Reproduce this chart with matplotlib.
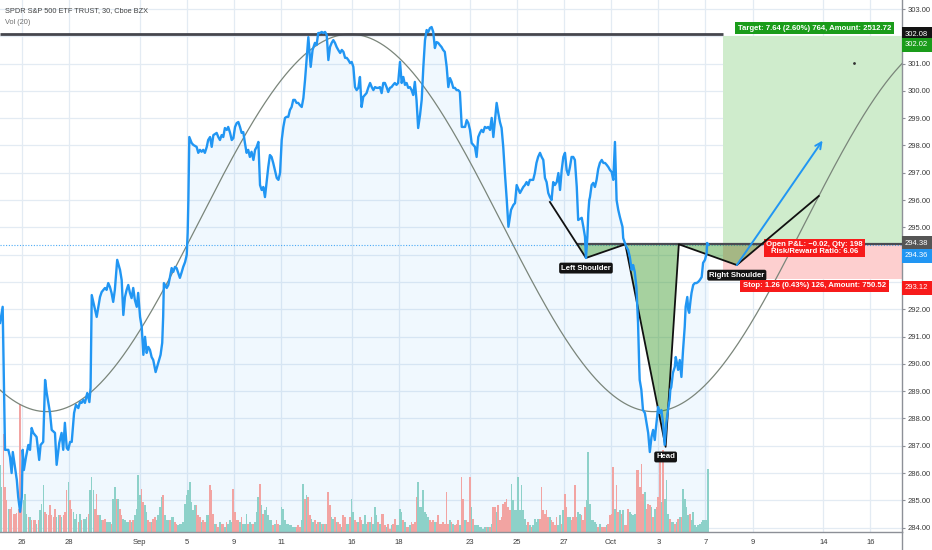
import numpy as np
import matplotlib
matplotlib.use("Agg")
import matplotlib.pyplot as plt
from matplotlib.patches import Rectangle, Polygon
import matplotlib.transforms as mtrans

plt.rcParams['font.family'] = ['Liberation Sans', 'DejaVu Sans']

# ---------------- data ----------------
# time axis = trading days since Aug 26 open (30-min bars, 13 per day)
price_t = [-0.93, -0.82, -0.72, -0.58, -0.51, -0.44, -0.39, -0.30, -0.22, -0.16, -0.08, -0.01,
           0.03, 0.08, 0.17, 0.27, 0.34, 0.41, 0.48, 0.62, 0.73, 0.79, 0.90, 0.98, 1.05, 1.19,
           1.26, 1.40, 1.47, 1.58, 1.68, 1.75, 1.82, 1.90, 1.96, 2.04, 2.11, 2.21, 2.29, 2.39,
           2.46, 2.53, 2.60, 2.67, 2.77, 2.86, 2.91, 2.96, 3.17, 3.31, 3.38, 3.52, 3.59, 3.66,
           3.73, 3.80, 3.87, 3.94, 4.04, 4.16, 4.23, 4.30, 4.37, 4.44, 4.51, 4.58, 4.65, 4.72,
           4.79, 4.87, 4.93, 5.01, 5.08, 5.15, 5.22, 5.29, 5.36, 5.43, 5.50, 5.57, 5.67, 5.78,
           5.88, 5.95, 5.99, 6.02, 6.14, 6.21, 6.28, 6.35, 6.42, 6.49, 6.56, 6.63, 6.70, 6.78,
           6.84, 6.92, 6.99, 7.03, 7.06, 7.10, 7.20, 7.27, 7.41, 7.48, 7.55, 7.62, 7.69, 7.76,
           7.84, 7.90, 7.98, 8.05, 8.12, 8.26, 8.33, 8.40, 8.47, 8.54, 8.61, 8.69, 8.75, 8.83,
           8.90, 8.97, 9.04, 9.11, 9.18, 9.25, 9.32, 9.39, 9.46, 9.53, 9.60, 9.67, 9.74, 9.82,
           9.89, 9.96, 10.03, 10.10, 10.17, 10.24, 10.31, 10.38, 10.45, 10.52, 10.59, 10.66,
           10.73, 10.81, 10.88, 10.95, 11.02, 11.09, 11.16, 11.23, 11.30, 11.37, 11.44, 11.51,
           11.58, 11.65, 11.72, 11.79, 11.87, 11.94, 12.01, 12.08, 12.15, 12.25, 12.33, 12.43,
           12.50, 12.57, 12.64, 12.72, 12.78, 12.86, 12.93, 13.00, 13.07, 13.14, 13.21, 13.28,
           13.35, 13.42, 13.50, 13.57, 13.64, 13.71, 13.78, 13.85, 13.92, 13.99, 14.06, 14.13,
           14.20, 14.27, 14.34, 14.41, 14.48, 14.62, 14.69, 14.77, 14.84, 14.91, 14.98, 15.05,
           15.12, 15.19, 15.26, 15.33, 15.40, 15.47, 15.54, 15.61, 15.68, 15.75, 15.82, 15.89,
           15.96, 16.04, 16.11, 16.18, 16.25, 16.32, 16.39, 16.46, 16.53, 16.60, 16.67, 16.74,
           16.81, 16.89, 16.96, 17.03, 17.10, 17.17, 17.24, 17.31, 17.38, 17.45, 17.52, 17.59,
           17.66, 17.73, 17.80, 17.87, 17.94, 18.02, 18.09, 18.16, 18.23, 18.30, 18.37, 18.44,
           18.51, 18.58, 18.66, 18.73, 18.80, 18.87, 18.94, 19.01, 19.08, 19.15, 19.22, 19.29,
           19.36, 19.43, 19.50, 19.57, 19.64, 19.72, 19.78, 19.86, 19.93, 20.00, 20.07, 20.14,
           20.21, 20.28, 20.35, 20.42, 20.49, 20.57, 20.64, 20.75, 20.85, 20.92, 20.99, 21.13,
           21.27, 21.34, 21.41, 21.48, 21.55, 21.69, 21.76, 21.83, 21.90, 21.98, 22.05, 22.12,
           22.19, 22.26, 22.33, 22.40, 22.47, 22.54, 22.61, 22.69, 22.76, 22.83, 22.90, 22.97,
           23.04, 23.11, 23.18, 23.25, 23.32, 23.39, 23.46, 23.54, 23.60, 23.75, 23.82, 23.89,
           23.93, 23.99, 24.03, 24.07, 24.10, 24.17, 24.24, 24.31, 24.38, 24.45, 24.52, 24.60,
           24.67, 24.74, 24.81, 24.88, 24.95, 25.02, 25.09, 25.16, 25.23, 25.30, 25.37, 25.48,
           25.51, 25.58, 25.65, 25.72, 25.79, 25.87, 25.91, 25.93, 26.00, 26.07, 26.14, 26.19,
           26.21, 26.28, 26.35, 26.43, 26.50, 26.57, 26.64, 26.71, 26.78, 26.85, 26.89, 26.95,
           26.99, 27.06, 27.13, 27.20, 27.27, 27.34, 27.41, 27.48, 27.51, 27.55, 27.62, 27.70,
           27.74, 27.79, 27.84, 27.91, 27.98, 28.05, 28.12, 28.16, 28.23, 28.27, 28.31, 28.37,
           28.41, 28.48, 28.55, 28.62, 28.69, 28.76, 28.84, 28.90, 28.98, 29.05, 29.07, 29.12]

price_close = [291.50, 292.09, 286.85, 286.85, 286.59, 286.00, 286.77, 286.22, 285.75, 285.12, 284.58, 285.12,
               286.85, 286.11, 286.59, 287.03, 286.85, 287.65, 287.47, 287.32, 286.48, 287.03, 287.14, 289.41, 288.93, 288.20,
               287.58, 287.47, 286.30, 287.10, 287.47, 286.85, 287.84, 286.92, 286.85, 287.14, 287.14, 288.20, 288.50, 288.38,
               288.60, 288.57, 288.68, 288.57, 288.93, 288.60, 289.12, 292.52, 291.72, 292.45, 292.63, 292.78, 292.71, 292.96,
               292.82, 292.60, 292.27, 292.71, 293.81, 293.44, 293.07, 291.79, 292.45, 292.71, 292.89, 292.60, 292.41, 292.78,
               292.34, 292.09, 292.60, 291.72, 291.35, 290.33, 290.99, 290.40, 290.62, 290.51, 290.25, 290.14, 289.70, 290.03,
               290.33, 290.77, 291.72, 292.96, 292.78, 292.89, 293.18, 293.51, 293.37, 293.55, 293.51, 293.33, 293.15, 293.37,
               293.55, 293.73, 293.99, 294.80, 296.00, 298.31, 298.09, 298.02, 297.95, 297.73, 297.84, 297.77, 297.84, 297.73,
               297.95, 298.20, 298.31, 297.95, 298.38, 298.46, 298.31, 298.20, 298.38, 298.31, 298.64, 298.57, 298.68, 298.46,
               298.20, 298.27, 298.68, 298.82, 298.86, 298.68, 298.46, 298.49, 298.09, 297.73, 297.84, 297.58, 297.77, 297.47,
               297.84, 297.95, 298.13, 296.55, 296.37, 296.48, 296.11, 296.66, 297.21, 297.65, 297.58, 297.36,
               297.10, 296.81, 296.74, 296.99, 298.20, 298.68, 299.01, 299.05, 299.05, 299.30, 299.41, 299.67,
               299.67, 299.56, 299.56, 299.48, 299.41, 299.74, 300.40, 301.21, 301.97, 300.88, 301.50, 301.76,
               301.68, 302.12, 302.12, 302.16, 302.12, 302.16, 302.05, 301.13, 301.61, 301.76, 301.86, 301.76,
               301.61, 301.50, 301.39, 301.50, 301.43, 301.21, 301.21, 301.13, 301.02, 301.06, 300.88, 300.14,
               300.03, 300.11, 300.51, 299.41, 299.78, 299.92, 300.11, 300.29, 300.14, 300.03, 300.14, 300.11,
               300.11, 300.14, 299.92, 300.29, 300.29, 300.14, 299.96, 300.11, 300.14, 300.22, 300.29, 300.22,
               300.29, 301.06, 300.29, 300.51, 300.22, 300.29, 300.11, 300.14, 300.03, 299.85, 300.33, 299.67,
               298.64, 299.12, 299.67, 300.88, 301.86, 302.23, 302.16, 302.30, 302.34, 302.16, 301.57, 301.79,
               301.76, 301.68, 301.61, 301.50, 301.43, 300.88, 300.14, 300.47, 300.33, 300.11, 300.11, 300.03,
               300.03, 299.96, 298.68, 298.68, 298.68, 298.93, 298.82, 298.57, 298.09, 298.02, 297.95, 297.58,
               298.31, 298.46, 298.57, 298.49, 298.68, 298.64, 298.68, 298.57, 299.01, 298.31, 298.93, 299.56,
               299.19, 298.86, 298.64, 297.95, 296.99, 296.00, 295.02, 295.64, 295.82, 295.89, 296.55, 296.26,
               296.48, 296.55, 296.66, 296.55, 296.74, 296.74, 296.99, 297.36, 297.58, 297.73, 297.58, 297.47,
               296.81, 296.66, 296.26, 296.11, 296.00, 296.66, 296.55, 296.66, 296.99, 296.37, 297.10, 297.58,
               297.73, 297.10, 296.92, 297.21, 297.58, 297.58, 297.47, 296.48, 295.27, 295.35, 295.02, 294.65,
               293.88, 294.65, 295.53, 296.00, 296.11, 296.55, 296.63, 296.48, 296.74, 297.14, 297.36, 297.47,
               297.36, 297.36, 297.29, 297.21, 297.10, 297.03, 296.74, 298.13, 296.00, 295.64, 295.38, 295.02,
               294.61, 294.43, 294.28, 294.17, 293.92, 293.44, 293.55, 293.62, 293.37, 292.82, 291.50, 289.89,
               289.41, 289.05, 288.31, 288.20, 287.84, 287.47, 286.77, 287.32, 287.58, 287.21, 287.58, 288.06,
               288.42, 288.20, 288.31, 287.84, 287.03, 287.84, 288.31, 288.68, 289.05, 289.15, 289.67, 289.89,
               290.25, 290.03, 289.78, 290.14, 289.52, 290.51, 291.35, 292.09, 292.45, 291.98, 291.87, 292.34,
               292.60, 292.89, 292.96, 292.96, 293.00, 293.07, 293.18, 293.70, 293.81, 294.06, 294.43, 294.36]

# Volume per 30-min bar (relative units); negative = down bar (red), positive = up bar (green)
vol_part1 = [200, 135, -295, -135, -95, 70, -70, -75, -55, -55, -57, -70, -385, -105, 95, 115, 55, -45, 45, -35,
             -35, -35, 25, -35, 65, 85, 140, -60, -55, -50, -80, -50, -45, -70, 45, 50, -50, 45, -50, -60,
             -125, 150, -95, -70, 60, 40, 55, -30, 55, -35, 40, 40, 45, -55, 125, 165, 125, -70, -115, -50,
             50, 35, -35, -40, 30, 30, 30, -25, 100, 135, -100, 100, -70, -50, 40, 35, 30, 30, -35, 30,
             -35, 50, 70, 170, 110, -130, -90, 80, 60, -35, -30, 30, -40, -45, 35, 50, 75, 105, -110, 50,
             35, 35, -35, 45, 45, -30, -25, 20, 25, 25, 30, 85, 110, 125, 150, 90, 65, 80, -80, -50,
             -45, 30, -35, -30, 50, 50, -140, -125, -55, 25, -25, -15, 30, -25, -25, 15, -30, 25, 35, 30,
             -130, -60, -35, -35, 30, -45, 25, 25, 55, -25, 30, 25, -25, 30, 60, 105, -145, 80, -55, 65,
             75, 50, 35, 35, -20, 25, -35, -25, 20, 75, 70, 35, 25, 25, 20, 20, 15, 15, -15, -20]
vol_part2 = [-15, 35, 145, -100, 110, -105, -50, 40, 30, -35, 25, -30, 30, -25, 25, -25, 25, -120, -80, 45,
             40, -45, 30, -30, -25, 15, -50, -45, 25, 25, -45, 100, 60, -35, -30, 30, -45, -35, 25, 50,
             25, -30, 30, -45, 25, 75, 50, -30, 25, -55, -55, -20, 15, -25, -10, 20, -25, -40, 20, 20,
             70, 60, -35, 30, -15, -15, 20, -30, -25, -30, -105, 150, 75, 75, 125, 60, 55, 45, -35, -30,
             -35, 30, -30, -50, -25, -25, -30, -25, -120, -25, 35, -30, 25, -20, -25, -35, 20, -165, -100, 35,
             -35, -30, -165, 75, -40, 20, 20, 20, 15, 15, 10, 15, -15, 15, -15, 25, -75, -75, 60, -80,
             -35, -45, -85, -90, -100, -75, -65, 145, 95, 65, 65, 165, 65, 140, 65, 40, 20, -30, 20, -15,
             20, 40, 30, 40, -40, -135, -65, -55, -65, -45, 45, -35, -30, -20, -45, 20, 50, -25, 65, -115,
             -75, 45, 45, -35, -45, -140, -45, 60, 55, -50, -35, -75, 95, 240, 85, 35, 35, 30, 25, -15]
vol_part3 = [25, -15, -15, -15, 20, -25, -50, -55, -195, 70, -140, -60, 65, -55, 65, -20, -20, -70, 60, 55,
             50, 55, -185, -185, -135, -205, -115, 120, -70, -85, -80, 75, -45, 70, -75, -105, -210, 90, -245, 100,
             155, 55, -40, 30, 30, -25, 30, -40, 45, -45, 130, 100, 75, 50, -55, 35, 60, 20, 15, 20,
             25, 30, 35, 37, 37, 190]
vol_spans = [(-0.933, 11.72), (11.79, 24.45), (24.52, 29.12)]   # day span covered by each part
vol_axis_top = 1596.0   # volume value at the top of the price pane

# x-axis tick positions (trading-day index) and labels
tick_days = [0, 2, 5, 7, 9, 11, 14, 16, 19, 21, 23, 25, 27, 29, 31, 34, 36]
tick_labels = ["26", "28", "Sep", "5", "9", "11", "16", "18", "23", "25", "27", "Oct", "3", "7", "9", "14", "16"]

# drawings
resistance = 302.08
neckline = 294.38
last_price = 294.36
target_price = 302.02
stop_price = 293.12
position_start = 29.74
hs_t = [22.40, 23.93, 25.60, 27.31, 27.87, 30.33, 33.81]
hs_p = [295.93, 293.88, 294.38, 286.96, 294.38, 293.62, 296.15]
sine_trough = (1.05, 288.25)
sine_peak = (13.92, 302.08)
arrow_from = (30.33, 293.62)
arrow_to = (33.97, 298.18)

# ---------------- figure ----------------
W, H = 932, 550
fig = plt.figure(figsize=(W / 100, H / 100), dpi=100)
fig.patch.set_facecolor("white")
ax = fig.add_axes([0, 18 / H, 902 / W, 532 / H])
xmin, xmax = -0.933, 37.34
ymin, ymax = 283.84, 303.33
ax.set_xlim(xmin, xmax)
ax.set_ylim(ymin, ymax)

grid_c = "#e3ebf3"
for yv in range(284, 304):
    ax.axhline(yv, color=grid_c, lw=0.9, zorder=0)
for xv in tick_days:
    ax.axvline(xv, color=grid_c, lw=0.9, zorder=0)

t = np.array(price_t)
p = np.array(price_close)
ax.fill_between(t, p, ymin, color="#2196f3", alpha=0.065, lw=0, zorder=1)

# volume bars
trans_vol = mtrans.blended_transform_factory(ax.transData, ax.transAxes)
for part, (a, b) in zip([vol_part1, vol_part2, vol_part3], vol_spans):
    v = np.array(part, dtype=float)
    xs = np.linspace(a, b, len(v))
    step = (b - a) / (len(v) - 1)
    colors = np.where(v >= 0, "#8dd1c9", "#f2a4a2")
    ax.bar(xs, np.abs(v) / vol_axis_top, width=step * 0.95, bottom=0, color=colors,
           transform=trans_vol, zorder=1.5, lw=0)

# sine drawing
ts = np.linspace(xmin, xmax, 800)
mid = (sine_trough[1] + sine_peak[1]) / 2
amp = (sine_peak[1] - sine_trough[1]) / 2
half = sine_peak[0] - sine_trough[0]
ax.plot(ts, mid - amp * np.cos(np.pi * (ts - sine_trough[0]) / half), color="#7a857a", lw=0.9, zorder=2)

# position tool boxes
ax.add_patch(Rectangle((position_start, neckline), 10, target_price - neckline,
                       facecolor="#cfeccc", edgecolor="none", zorder=1.2))
ax.add_patch(Rectangle((position_start, stop_price), 10, neckline - stop_price,
                       facecolor="#fdcfcf", edgecolor="none", zorder=1.2))

# resistance line
ax.hlines(resistance, xmin, position_start, color="#45464d", lw=2, zorder=3)
# current price dotted line
ax.axhline(last_price, color="#2196f3", lw=0.8, ls=(0, (1, 1.5)), alpha=0.8, zorder=2)


# head and shoulders
def cross(t1, p1, t2, p2, level):
    f = (p1 - level) / (p1 - p2)
    return t1 + f * (t2 - t1)

ls_cross = cross(hs_t[0], hs_p[0], hs_t[1], hs_p[1], neckline)
rs_cross = cross(hs_t[5], hs_p[5], hs_t[6], hs_p[6], neckline)
tri_col = "#3a9a2a"
ax.add_patch(Polygon([(ls_cross, neckline), (hs_t[1], hs_p[1]), (hs_t[2], neckline)],
                     closed=True, facecolor=tri_col, alpha=0.45, lw=0, zorder=2.2))
ax.add_patch(Polygon([(hs_t[2], neckline), (hs_t[3], hs_p[3]), (hs_t[4], neckline)],
                     closed=True, facecolor=tri_col, alpha=0.45, lw=0, zorder=2.2))
ax.add_patch(Polygon([(hs_t[4], neckline), (hs_t[5], hs_p[5]), (rs_cross, neckline)],
                     closed=True, facecolor=tri_col, alpha=0.45, lw=0, zorder=2.2))
ax.plot(hs_t, hs_p, color="#111111", lw=1.3, zorder=3.5)
ax.hlines(neckline, ls_cross, xmax, color="#4a4a52", lw=1.6, zorder=3.4)

# price line
ax.plot(t, p, color="#2196f3", lw=1.7, zorder=4, solid_joinstyle="round")

# arrow
ax.annotate("", xy=arrow_to, xytext=arrow_from,
            arrowprops=dict(arrowstyle="->,head_length=0.45,head_width=0.22", color="#2196f3", lw=1.4,
                            shrinkA=0, shrinkB=0), zorder=5)
ax.plot([35.30], [301.03], marker="o", ms=1.0, color="#333333", zorder=5)

fs = 5.3
fs_box = 5.6
lab_box = dict(boxstyle="round,pad=0.25,rounding_size=0.25", fc="#131313", ec="none")
for name, ti, pi in [("Left Shoulder", hs_t[1], hs_p[1]), ("Head", hs_t[3], hs_p[3]),
                     ("Right Shoulder", hs_t[5], hs_p[5])]:
    ax.annotate(name, xy=(ti, pi), xytext=(0, -7.3), textcoords="offset points", ha="center", va="center",
                color="white", fontsize=fs_box, fontweight="bold", bbox=lab_box, zorder=6)

ax.text(33.64, 302.30, "Target: 7.64 (2.60%) 764, Amount: 2512.72", ha="center", va="center", color="white",
        fontsize=fs_box, fontweight="bold", zorder=6,
        bbox=dict(boxstyle="square,pad=0.35", fc="#1a9c1a", ec="none"))
ax.text(33.64, 294.25, "Open P&L: \u22120.02, Qty: 198\nRisk/Reward Ratio: 6.06", ha="center", va="center",
        color="white", fontsize=fs_box, fontweight="bold", linespacing=1.0, zorder=3.45,
        bbox=dict(boxstyle="square,pad=0.3", fc="#f71b1b", ec="none"))
ax.text(33.62, 292.86, "Stop: 1.26 (0.43%) 126, Amount: 750.52", ha="center", va="center", color="white",
        fontsize=fs_box, fontweight="bold", zorder=6,
        bbox=dict(boxstyle="square,pad=0.35", fc="#f71b1b", ec="none"))

# axes styling
for s in ["top", "left"]:
    ax.spines[s].set_visible(False)
ax.spines["bottom"].set_color("#8d9097")
ax.spines["right"].set_color("#8d9097")
ax.spines["bottom"].set_linewidth(1.0)
ax.spines["right"].set_linewidth(1.0)
ax.yaxis.tick_right()
ax.set_yticks(range(284, 304))
ylabels = ["" if v in (302, 294, 293) else f"{v:.2f}" for v in range(284, 304)]
ax.set_yticklabels(ylabels)
ax.tick_params(axis="y", length=2.5, width=0.8, color="#8d9097", labelsize=5.5, labelcolor="#3a3a3a", pad=1.5)
ax.set_xticks(tick_days)
ax.set_xticklabels(tick_labels)
ax.tick_params(axis="x", length=0, labelsize=5.5, labelcolor="#3a3a3a", pad=5)
ax.set_facecolor("white")

# right-axis price labels
ytr = ax.get_yaxis_transform()
for val, col, dy in [(resistance, "#131313", 0), (target_price, "#1a9c1a", -9),
                     (neckline, "#555555", 1), (last_price, "#2196f3", -11), (stop_price, "#f71b1b", -9)]:
    ax.annotate(f"{val:.2f}", xy=(1, val), xycoords=ytr, xytext=(3, dy), textcoords="offset pixels",
                ha="left", va="center", color="white", fontsize=5.5, annotation_clip=False,
                bbox=dict(boxstyle="square,pad=0.45", fc=col, ec="none"), zorder=7)

# right axis line continues to the bottom
fig.add_artist(plt.Line2D([902 / W, 902 / W], [0, 18 / H], color="#8d9097", lw=1.0))

fig.text(5 / W, 1 - 11 / H, "SPDR S&P 500 ETF TRUST, 30, Cboe BZX", ha="left", va="center",
         fontsize=fs, color="#444444")
fig.text(5 / W, 1 - 23 / H, "Vol (20)", ha="left", va="center", fontsize=fs, color="#707070")

fig.savefig("out.png", dpi=100)
